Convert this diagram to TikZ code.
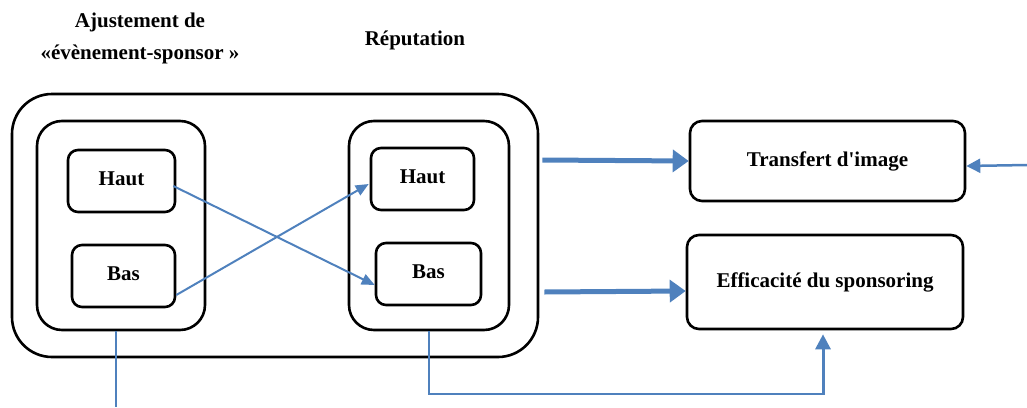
\documentclass[tikz,border=0pt]{standalone}
\usepackage{fontspec}
\setmainfont{Liberation Serif}
\usetikzlibrary{arrows.meta,calc}
\definecolor{linkblue}{RGB}{79,129,189}
\newcommand{\lift}[1]{\raisebox{4pt}{#1}}
\begin{document}
\begin{tikzpicture}[x=1pt,y=-1pt,
  box/.style={draw=black,line width=2.6pt,rounded corners=#1,inner sep=0pt},
  box/.default=10pt,
  lbl/.style={font=\fontsize{21}{25}\selectfont\bfseries,align=center},
  bigarrow/.style={draw=linkblue,line width=5pt,-{Triangle[length=16pt,width=22pt]}},
  thinarrow/.style={draw=linkblue,line width=2pt,-{Triangle[length=13pt,width=11pt]}},
  link/.style={draw=linkblue,line width=1.6pt}]
\useasboundingbox (0,0) rectangle (1027,407);

% group outlines
\node[box=40pt,minimum width=526pt,minimum height=263pt] (outer) at (275,225.5) {};
\node[box=25pt,minimum width=168pt,minimum height=209pt] (inL) at (121,225.5) {};
\node[box=25pt,minimum width=160pt,minimum height=209pt] (inR) at (429,225.5) {};

% level boxes
\node[box,lbl,minimum width=107pt,minimum height=62pt] (hautL) at (121.5,181) {\lift{Haut}};
\node[box,lbl,minimum width=103pt,minimum height=62pt] (basL) at (123.5,276) {\lift{Bas}};
\node[box,lbl,minimum width=103pt,minimum height=62pt] (hautR) at (422.5,179) {\lift{Haut}};
\node[box,lbl,minimum width=105pt,minimum height=62pt] (basR) at (428.5,274) {\lift{Bas}};

% outcomes
\node[box=12pt,lbl,minimum width=275pt,minimum height=80pt] (trans) at (827.5,161) {Transfert d\textquotesingle image};
\node[box=12pt,lbl,minimum width=276pt,minimum height=94pt] (eff) at (825,282) {Efficacité du sponsoring};

% headings
\node[lbl] (hAj) at (140,38) {Ajustement de\\[7pt]«évènement-sponsor »};
\node[lbl] (hRep) at (415,40) {Réputation};

% crossing links between the levels
\draw[thinarrow] ([xshift=-3pt,yshift=-5pt]hautL.east) -- ([yshift=-11pt]basR.west);
\draw[thinarrow] ([xshift=0pt,yshift=-19pt]basL.east) -- ([xshift=-1pt,yshift=-5pt]hautR.west);

% effects of the groups on the outcomes
\draw[bigarrow] ($(outer.east|-trans.west)+(3,-1)$) -- (trans.west);
\draw[bigarrow] ($(outer.east|-eff.west)+(5,10)$) -- ([yshift=-9pt]eff.west);

% incoming link from the right
\coordinate (rin) at (1027,165);
\draw[link,line width=2.5pt,-{Triangle[length=14pt,width=14pt]}] (rin) -- ([yshift=-5pt]trans.east);

% lines leaving the bottom
\coordinate (lout) at (116,407);
\draw[link] ([xshift=-5pt]inL.south) -- (lout);
\coordinate (rturn) at (429,394);
\draw[link] (inR.south) -- (rturn) -- (rturn -| eff.south) ++(-2,0);
\draw[link,line width=3pt,-{Triangle[length=15pt,width=15pt]}] ($(rturn -| eff.south)+(-2,0)$) -- ([xshift=-2pt,yshift=-4pt]eff.south);
\end{tikzpicture}
\end{document}
